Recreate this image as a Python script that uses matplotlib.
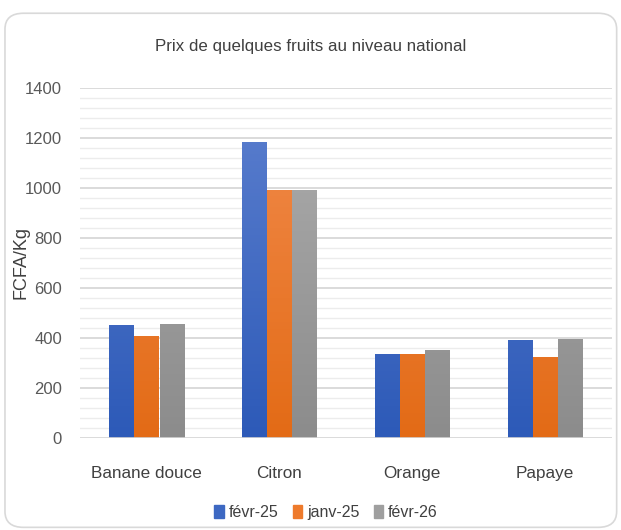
import numpy as np
import matplotlib.pyplot as plt
from matplotlib.colors import LinearSegmentedColormap
from matplotlib.patches import FancyBboxPatch, Patch

plt.rcParams['font.family'] = ['Liberation Sans', 'DejaVu Sans']

fruits = ['Banane douce', 'Citron', 'Orange', 'Papaye']
series = ['févr-25', 'janv-25', 'févr-26']
fevr25 = [452, 1182, 335, 392]
janv25 = [408, 990, 335, 325]
fevr26 = [456, 990, 352, 394]
values = [fevr25, janv25, fevr26]

# top / bottom colours of each series gradient
grad = [('#5d80cf', '#2d5ab8'), ('#f28c4e', '#e36b16'), ('#aeaeae', '#8c8c8c')]
legend_col = ['#3d68c2', '#ee7a2c', '#9f9f9f']

fig = plt.figure(figsize=(6.21, 5.3), dpi=100)
ax = fig.add_axes([0.129, 0.1736, 0.856, 0.6604])

# rounded frame
frame = FancyBboxPatch((0.008, 0.005), 0.985, 0.97, boxstyle='round,pad=0,rounding_size=0.03',
                       transform=fig.transFigure, fc='white', ec='#d9d9d9', lw=1.2, zorder=-10)
fig.patches.append(frame)

x = np.arange(len(fruits))
w = 0.185
for i, vals in enumerate(values):
    cmap = LinearSegmentedColormap.from_list('g%d' % i, [grad[i][1], grad[i][0]])
    bars = ax.bar(x + (i - 1) * 0.19, vals, width=w, color=legend_col[i], zorder=3)
    for b in bars:
        x0 = b.get_x()
        im = ax.imshow(np.linspace(0, 1, 100).reshape(-1, 1), cmap=cmap, aspect='auto',
                       origin='lower', extent=[x0, x0 + b.get_width(), 0, 1400], zorder=4)
        im.set_clip_path(b)
ax.set_aspect('auto')
ax.set_xlim(-0.5, 3.5)
ax.set_ylim(0, 1400)

# grid lines
for y in np.arange(40, 1400, 40):
    if y % 200:
        ax.axhline(y, color='#ececec', lw=1.0, zorder=1)
for y in np.arange(200, 1401, 200):
    ax.axhline(y, color='#d4d4d4', lw=1.2, zorder=1)
ax.axhline(0, color='#d4d4d4', lw=1.2, zorder=5)

for s in ax.spines.values():
    s.set_visible(False)
ax.set_yticks(np.arange(0, 1401, 200))
ax.set_xticks(x)
ax.set_xticklabels(fruits, fontsize=12.3, color='#404040')
ax.tick_params(axis='y', length=0, labelsize=12, labelcolor='#595959', pad=13)
ax.tick_params(axis='x', length=0, pad=20)
ax.set_ylabel('FCFA/Kg', fontsize=13, color='#404040')
ax.yaxis.set_label_coords(-0.095, 0.5)

fig.text(0.5, 0.913, 'Prix de quelques fruits au niveau national', ha='center', va='center',
         fontsize=12.2, color='#404040')

handles = [Patch(color=c) for c in legend_col]
fig.legend(handles, series, loc='center', bbox_to_anchor=(0.525, 0.033), ncol=3, frameon=False,
           fontsize=11.5, handlelength=0.6, handleheight=0.9, handletextpad=0.3, columnspacing=0.9,
           labelcolor='#404040')

fig.savefig('out.png', dpi=100)
